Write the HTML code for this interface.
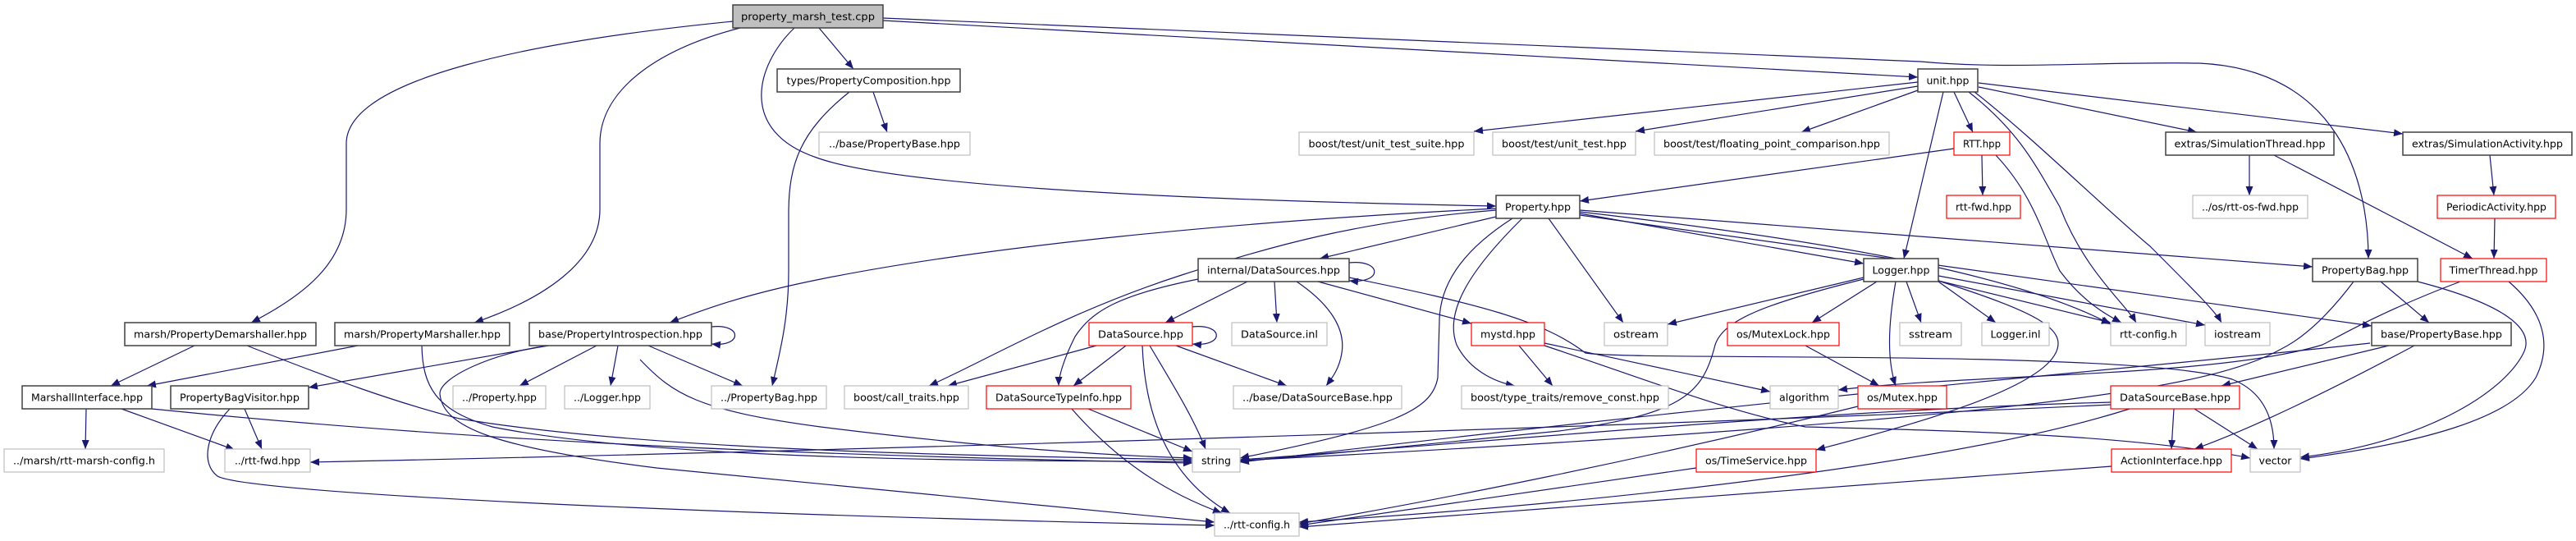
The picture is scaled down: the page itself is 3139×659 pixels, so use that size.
<!DOCTYPE html>
<html><head><meta charset="utf-8"><style>
html,body{margin:0;padding:0;background:#fff;}
svg{display:block;}
text{font-family:"DejaVu Sans","Liberation Sans",sans-serif;font-size:12.5px;fill:#000;}
.e{fill:none;stroke:#191970;stroke-width:1.2;marker-end:url(#a);}
.k{fill:#fff;stroke:#404040;stroke-width:1.5;}
.g{fill:#fff;stroke:#bfbfbf;stroke-width:1.2;}
.r{fill:#fff;stroke:#ff0000;stroke-width:1.2;}
</style></head><body>
<svg width="3139" height="659" viewBox="0 0 3139 659" xmlns="http://www.w3.org/2000/svg">
<defs><marker id="a" markerUnits="userSpaceOnUse" markerWidth="11" markerHeight="9" refX="11" refY="4.5" orient="auto"><path d="M0,0 L11,4.5 L0,9 z" fill="#191970"/></marker></defs>
<g>
<path class="e" d="M893,26 C650,50 422,95 422,175 L422,255 C422,320 370,360 306,393"/>
<path class="e" d="M902,34 C800,60 731,110 731,175 L731,255 C731,320 660,365 578,393"/>
<path class="e" d="M998,34 L1040,84"/>
<path class="e" d="M968,34 C920,80 900,160 995,192 C1100,230 1500,245 1823,251"/>
<path class="e" d="M1076,22 L2340,75 C2450,85 2550,75 2680,77 C2850,85 2886,220 2886,315"/>
<path class="e" d="M1076,25 L2337,94"/>
<path class="e" d="M2337,100 L1796,160"/>
<path class="e" d="M2337,105 L1993,160"/>
<path class="e" d="M2337,110 L2195,161"/>
<path class="e" d="M2381,112 L2404,161"/>
<path class="e" d="M2368,112 L2320,315"/>
<path class="e" d="M2399,112 C2460,160 2480,200 2510,252 C2540,330 2590,370 2603,393"/>
<path class="e" d="M2406,112 C2480,170 2560,250 2620,300 C2680,360 2700,380 2707,393"/>
<path class="e" d="M2411,106 L2677,161"/>
<path class="e" d="M2411,101 L2928,163"/>
<path class="e" d="M2381,181 L1925,245"/>
<path class="e" d="M2415,189 L2416,238"/>
<path class="e" d="M2432,189 C2480,240 2490,290 2510,330 C2540,370 2570,385 2585,393"/>
<path class="e" d="M2741,189 L2741,238"/>
<path class="e" d="M2771,189 L3013,315"/>
<path class="e" d="M3034,189 L3039,238"/>
<path class="e" d="M3040,266 L3039,315"/>
<path class="e" d="M1064,112 L1081,161"/>
<path class="e" d="M1035,112 C975,160 961,200 961,260 L961,330 C961,390 950,430 941,470"/>
<path class="e" d="M1823,264 L1608,315"/>
<path class="e" d="M1925,260 L2271,321"/>
<path class="e" d="M1887,266 L1978,393"/>
<path class="e" d="M1855,266 C1790,330 1760,380 1775,420 C1790,450 1820,465 1846,470"/>
<path class="e" d="M1843,266 C1790,300 1755,340 1754,390 L1752,460 C1745,500 1700,520 1511,558"/>
<path class="e" d="M1823,256 C1650,270 1550,300 1440,335 C1300,380 1200,440 1132,470"/>
<path class="e" d="M1823,254 C1500,270 1200,300 1000,340 C900,360 850,380 816,393"/>
<path class="e" d="M1925,256 L2818,325"/>
<path class="e" d="M1925,258 C2200,290 2450,330 2572,395"/>
<path class="e" d="M1925,262 L2890,397"/>
<path class="e" d="M1644,320 C1685,316 1685,346 1644,342"/>
<path class="e" d="M1520,343 L1420,393"/>
<path class="e" d="M1553,343 L1556,393"/>
<path class="e" d="M1460,340 C1360,360 1330,380 1310,410 C1295,440 1290,460 1290,470"/>
<path class="e" d="M1580,343 C1620,370 1640,400 1635,430 C1632,450 1622,462 1616,470"/>
<path class="e" d="M1606,343 L1793,394"/>
<path class="e" d="M1644,338 C1800,370 1880,390 1932,430 C1990,440 2600,425 2720,462 C2765,480 2771,520 2771,547"/>
<path class="e" d="M1453,398 C1492,394 1492,423 1453,419"/>
<path class="e" d="M1336,421 L1155,470"/>
<path class="e" d="M1372,421 L1308,470"/>
<path class="e" d="M1401,421 C1430,470 1455,510 1469,547"/>
<path class="e" d="M1392,421 C1395,500 1420,580 1499,625"/>
<path class="e" d="M1433,421 L1568,470"/>
<path class="e" d="M1326,498 L1453,550"/>
<path class="e" d="M1306,498 C1360,560 1420,600 1489,625"/>
<path class="e" d="M1851,421 L1892,470"/>
<path class="e" d="M1882,418 L2157,477"/>
<path class="e" d="M1882,421 C2000,460 2100,500 2200,520 C2400,525 2600,530 2742,558"/>
<path class="e" d="M2271,338 L2032,395"/>
<path class="e" d="M2271,340 C2150,370 2100,390 2090,420 C2075,480 2050,505 1900,525 C1700,545 1600,555 1511,562"/>
<path class="e" d="M2287,343 L2208,393"/>
<path class="e" d="M2323,343 L2341,393"/>
<path class="e" d="M2310,343 C2300,400 2300,440 2310,470"/>
<path class="e" d="M2362,343 L2432,393"/>
<path class="e" d="M2362,342 L2572,393"/>
<path class="e" d="M2362,336 L2687,396"/>
<path class="e" d="M2362,342 C2480,380 2520,400 2505,430 C2480,480 2300,525 2213,548"/>
<path class="e" d="M2200,421 L2290,470"/>
<path class="e" d="M2264,495 C2000,560 1750,610 1583,638"/>
<path class="e" d="M2067,570 L1583,640"/>
<path class="e" d="M2573,568 L1583,642"/>
<path class="e" d="M2649,498 L2646,547"/>
<path class="e" d="M2674,498 L2751,547"/>
<path class="e" d="M2572,490 C2200,500 1800,540 1511,560"/>
<path class="e" d="M2595,498 C2400,560 2000,610 1583,636"/>
<path class="e" d="M2572,493 C2000,520 1000,550 378,563"/>
<path class="e" d="M2911,421 L2707,470"/>
<path class="e" d="M2942,421 C2850,470 2750,520 2674,547"/>
<path class="e" d="M2888,418 C2600,450 2300,470 1511,563"/>
<path class="e" d="M2901,343 L2960,393"/>
<path class="e" d="M2946,343 C3050,370 3090,400 3075,430 C3050,480 2950,540 2803,557"/>
<path class="e" d="M2868,343 C2840,380 2810,410 2780,425 C2700,470 2500,510 1511,561"/>
<path class="e" d="M3057,343 C3100,380 3110,420 3090,460 C3060,510 2950,540 2803,559"/>
<path class="e" d="M2998,343 C2900,380 2850,410 2830,420 C2700,460 2400,455 2240,475"/>
<path class="e" d="M867,398 C905,394 905,423 867,419"/>
<path class="e" d="M668,421 L376,472"/>
<path class="e" d="M727,421 L633,470"/>
<path class="e" d="M753,421 L744,470"/>
<path class="e" d="M790,421 L905,470"/>
<path class="e" d="M780,438 C820,480 850,500 1000,520 C1200,545 1350,555 1453,558"/>
<path class="e" d="M668,421 C600,430 535,460 536,480 C540,520 600,545 800,570 C1100,600 1300,620 1480,636"/>
<path class="e" d="M237,421 L135,470"/>
<path class="e" d="M301,421 C400,460 480,490 560,510 C800,550 1200,555 1453,560"/>
<path class="e" d="M436,421 L179,470"/>
<path class="e" d="M514,421 C515,470 530,500 600,520 C800,560 1200,562 1453,562"/>
<path class="e" d="M105,498 L104,547"/>
<path class="e" d="M148,498 L286,548"/>
<path class="e" d="M185,498 C600,540 1000,555 1453,564"/>
<path class="e" d="M298,498 L319,547"/>
<path class="e" d="M280,498 C250,530 245,565 265,580 C300,600 800,625 1480,640"/>
</g>
<g>
<rect x="893" y="6" width="183" height="28" fill="#bfbfbf" stroke="#404040" stroke-width="1.5"/><text x="984.5" y="24.5" text-anchor="middle" textLength="163" lengthAdjust="spacingAndGlyphs">property_marsh_test.cpp</text>
<rect class="k" x="947" y="84" width="223" height="28"/><text x="1058.5" y="102.5" text-anchor="middle" textLength="200" lengthAdjust="spacingAndGlyphs">types/PropertyComposition.hpp</text>
<rect class="k" x="2337" y="84" width="73" height="28"/><text x="2373.5" y="102.5" text-anchor="middle" textLength="52" lengthAdjust="spacingAndGlyphs">unit.hpp</text>
<rect class="g" x="998" y="161" width="184" height="28"/><text x="1090" y="179.5" text-anchor="middle" textLength="160" lengthAdjust="spacingAndGlyphs">../base/PropertyBase.hpp</text>
<rect class="g" x="1583" y="161" width="213" height="28"/><text x="1689.5" y="179.5" text-anchor="middle" textLength="190" lengthAdjust="spacingAndGlyphs">boost/test/unit_test_suite.hpp</text>
<rect class="g" x="1819" y="161" width="174" height="28"/><text x="1906" y="179.5" text-anchor="middle" textLength="152" lengthAdjust="spacingAndGlyphs">boost/test/unit_test.hpp</text>
<rect class="g" x="2016" y="161" width="286" height="28"/><text x="2159" y="179.5" text-anchor="middle" textLength="264" lengthAdjust="spacingAndGlyphs">boost/test/floating_point_comparison.hpp</text>
<rect class="r" x="2381" y="161" width="68" height="28"/><text x="2415" y="179.5" text-anchor="middle" textLength="46" lengthAdjust="spacingAndGlyphs">RTT.hpp</text>
<rect class="k" x="2639" y="161" width="205" height="28"/><text x="2741.5" y="179.5" text-anchor="middle" textLength="184" lengthAdjust="spacingAndGlyphs">extras/SimulationThread.hpp</text>
<rect class="k" x="2928" y="161" width="206" height="28"/><text x="3031" y="179.5" text-anchor="middle" textLength="184" lengthAdjust="spacingAndGlyphs">extras/SimulationActivity.hpp</text>
<rect class="k" x="1823" y="238" width="102" height="28"/><text x="1874" y="256.5" text-anchor="middle" textLength="80" lengthAdjust="spacingAndGlyphs">Property.hpp</text>
<rect class="r" x="2372" y="238" width="90" height="28"/><text x="2417" y="256.5" text-anchor="middle" textLength="68" lengthAdjust="spacingAndGlyphs">rtt-fwd.hpp</text>
<rect class="g" x="2672" y="238" width="140" height="28"/><text x="2742" y="256.5" text-anchor="middle" textLength="118" lengthAdjust="spacingAndGlyphs">../os/rtt-os-fwd.hpp</text>
<rect class="r" x="2970" y="238" width="144" height="28"/><text x="3042" y="256.5" text-anchor="middle" textLength="122" lengthAdjust="spacingAndGlyphs">PeriodicActivity.hpp</text>
<rect class="k" x="1460" y="315" width="184" height="28"/><text x="1552" y="333.5" text-anchor="middle" textLength="162" lengthAdjust="spacingAndGlyphs">internal/DataSources.hpp</text>
<rect class="k" x="2271" y="315" width="91" height="28"/><text x="2316.5" y="333.5" text-anchor="middle" textLength="70" lengthAdjust="spacingAndGlyphs">Logger.hpp</text>
<rect class="k" x="2818" y="315" width="128" height="28"/><text x="2882" y="333.5" text-anchor="middle" textLength="106" lengthAdjust="spacingAndGlyphs">PropertyBag.hpp</text>
<rect class="r" x="2974" y="315" width="129" height="28"/><text x="3038.5" y="333.5" text-anchor="middle" textLength="108" lengthAdjust="spacingAndGlyphs">TimerThread.hpp</text>
<rect class="k" x="152" y="393" width="233" height="28"/><text x="268.5" y="411.5" text-anchor="middle" textLength="211" lengthAdjust="spacingAndGlyphs">marsh/PropertyDemarshaller.hpp</text>
<rect class="k" x="408" y="393" width="213" height="28"/><text x="514.5" y="411.5" text-anchor="middle" textLength="191" lengthAdjust="spacingAndGlyphs">marsh/PropertyMarshaller.hpp</text>
<rect class="k" x="645" y="393" width="222" height="28"/><text x="756" y="411.5" text-anchor="middle" textLength="200" lengthAdjust="spacingAndGlyphs">base/PropertyIntrospection.hpp</text>
<rect class="r" x="1327" y="393" width="126" height="28"/><text x="1390" y="411.5" text-anchor="middle" textLength="104" lengthAdjust="spacingAndGlyphs">DataSource.hpp</text>
<rect class="g" x="1501" y="393" width="116" height="28"/><text x="1559" y="411.5" text-anchor="middle" textLength="94" lengthAdjust="spacingAndGlyphs">DataSource.inl</text>
<rect class="r" x="1793" y="393" width="89" height="28"/><text x="1837.5" y="411.5" text-anchor="middle" textLength="67" lengthAdjust="spacingAndGlyphs">mystd.hpp</text>
<rect class="g" x="1955" y="393" width="77" height="28"/><text x="1993.5" y="411.5" text-anchor="middle" textLength="55" lengthAdjust="spacingAndGlyphs">ostream</text>
<rect class="r" x="2105" y="393" width="136" height="28"/><text x="2173" y="411.5" text-anchor="middle" textLength="114" lengthAdjust="spacingAndGlyphs">os/MutexLock.hpp</text>
<rect class="g" x="2315" y="393" width="75" height="28"/><text x="2352.5" y="411.5" text-anchor="middle" textLength="53" lengthAdjust="spacingAndGlyphs">sstream</text>
<rect class="g" x="2415" y="393" width="82" height="28"/><text x="2456" y="411.5" text-anchor="middle" textLength="61" lengthAdjust="spacingAndGlyphs">Logger.inl</text>
<rect class="g" x="2572" y="393" width="92" height="28"/><text x="2618" y="411.5" text-anchor="middle" textLength="70" lengthAdjust="spacingAndGlyphs">rtt-config.h</text>
<rect class="g" x="2687" y="393" width="79" height="28"/><text x="2726.5" y="411.5" text-anchor="middle" textLength="57" lengthAdjust="spacingAndGlyphs">iostream</text>
<rect class="k" x="2890" y="393" width="170" height="28"/><text x="2975" y="411.5" text-anchor="middle" textLength="148" lengthAdjust="spacingAndGlyphs">base/PropertyBase.hpp</text>
<rect class="k" x="27" y="470" width="158" height="28"/><text x="106" y="488.5" text-anchor="middle" textLength="136" lengthAdjust="spacingAndGlyphs">MarshallInterface.hpp</text>
<rect class="k" x="208" y="470" width="168" height="28"/><text x="292" y="488.5" text-anchor="middle" textLength="146" lengthAdjust="spacingAndGlyphs">PropertyBagVisitor.hpp</text>
<rect class="g" x="552" y="470" width="113" height="28"/><text x="608.5" y="488.5" text-anchor="middle" textLength="91" lengthAdjust="spacingAndGlyphs">../Property.hpp</text>
<rect class="g" x="688" y="470" width="104" height="28"/><text x="740" y="488.5" text-anchor="middle" textLength="82" lengthAdjust="spacingAndGlyphs">../Logger.hpp</text>
<rect class="g" x="867" y="470" width="140" height="28"/><text x="937" y="488.5" text-anchor="middle" textLength="118" lengthAdjust="spacingAndGlyphs">../PropertyBag.hpp</text>
<rect class="g" x="1029" y="470" width="151" height="28"/><text x="1104.5" y="488.5" text-anchor="middle" textLength="129" lengthAdjust="spacingAndGlyphs">boost/call_traits.hpp</text>
<rect class="r" x="1202" y="470" width="176" height="28"/><text x="1290" y="488.5" text-anchor="middle" textLength="154" lengthAdjust="spacingAndGlyphs">DataSourceTypeInfo.hpp</text>
<rect class="g" x="1503" y="470" width="205" height="28"/><text x="1605.5" y="488.5" text-anchor="middle" textLength="183" lengthAdjust="spacingAndGlyphs">../base/DataSourceBase.hpp</text>
<rect class="g" x="1781" y="470" width="252" height="28"/><text x="1907" y="488.5" text-anchor="middle" textLength="230" lengthAdjust="spacingAndGlyphs">boost/type_traits/remove_const.hpp</text>
<rect class="g" x="2157" y="470" width="83" height="28"/><text x="2198.5" y="488.5" text-anchor="middle" textLength="61" lengthAdjust="spacingAndGlyphs">algorithm</text>
<rect class="r" x="2264" y="470" width="108" height="28"/><text x="2318" y="488.5" text-anchor="middle" textLength="86" lengthAdjust="spacingAndGlyphs">os/Mutex.hpp</text>
<rect class="r" x="2572" y="470" width="157" height="28"/><text x="2650.5" y="488.5" text-anchor="middle" textLength="135" lengthAdjust="spacingAndGlyphs">DataSourceBase.hpp</text>
<rect class="g" x="5" y="547" width="195" height="28"/><text x="102.5" y="565.5" text-anchor="middle" textLength="173" lengthAdjust="spacingAndGlyphs">../marsh/rtt-marsh-config.h</text>
<rect class="g" x="274" y="547" width="104" height="28"/><text x="326" y="565.5" text-anchor="middle" textLength="80" lengthAdjust="spacingAndGlyphs">../rtt-fwd.hpp</text>
<rect class="g" x="1453" y="547" width="58" height="28"/><text x="1482" y="565.5" text-anchor="middle" textLength="36" lengthAdjust="spacingAndGlyphs">string</text>
<rect class="r" x="2067" y="547" width="146" height="28"/><text x="2140" y="565.5" text-anchor="middle" textLength="124" lengthAdjust="spacingAndGlyphs">os/TimeService.hpp</text>
<rect class="r" x="2573" y="547" width="146" height="28"/><text x="2646" y="565.5" text-anchor="middle" textLength="124" lengthAdjust="spacingAndGlyphs">ActionInterface.hpp</text>
<rect class="g" x="2742" y="547" width="61" height="28"/><text x="2772.5" y="565.5" text-anchor="middle" textLength="40" lengthAdjust="spacingAndGlyphs">vector</text>
<rect class="g" x="1480" y="625" width="103" height="28"/><text x="1531.5" y="643.5" text-anchor="middle" textLength="81" lengthAdjust="spacingAndGlyphs">../rtt-config.h</text>
</g>
</svg>
</body></html>
